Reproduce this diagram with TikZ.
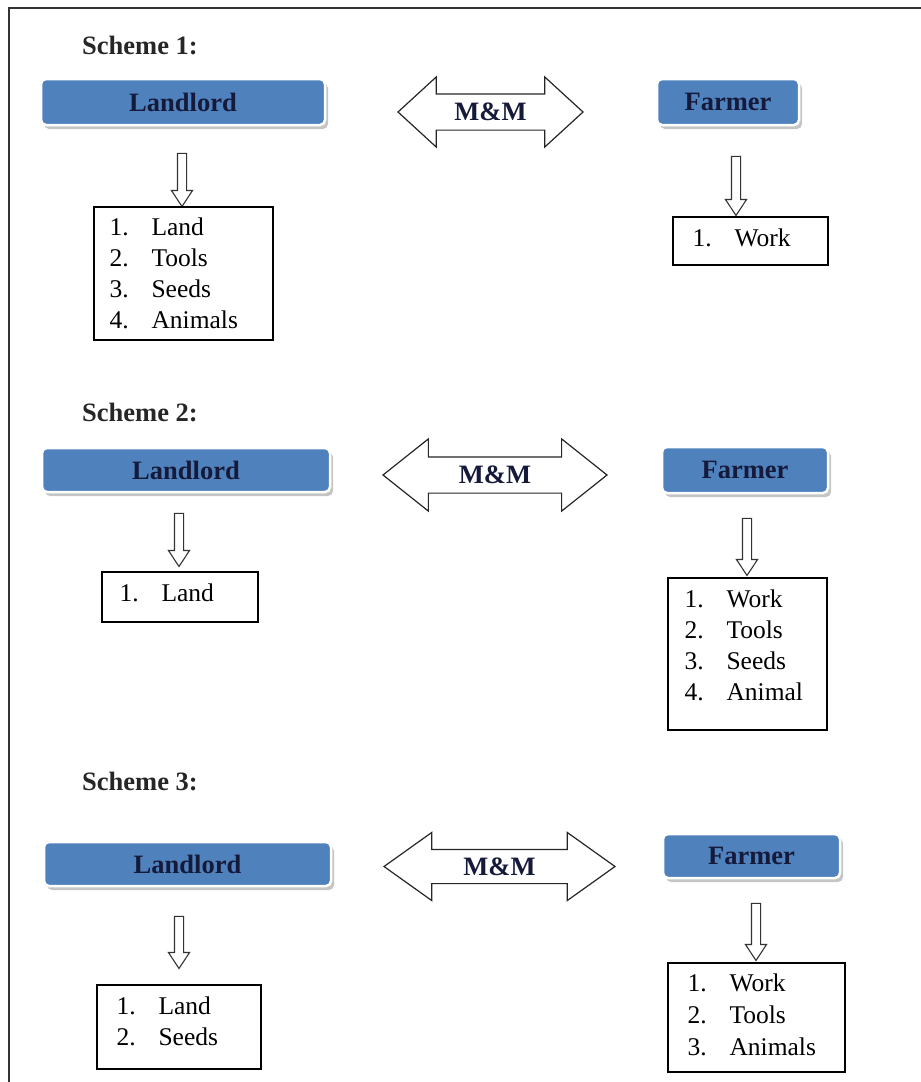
\documentclass[tikz,border=0pt]{standalone}
\usepackage{fontspec}
\setmainfont{Liberation Serif}
\usepackage{tikz}
\usetikzlibrary{shapes.arrows, shadows, positioning, calc}
\definecolor{partyblue}{HTML}{4F81BD}
\definecolor{partytext}{HTML}{15193A}
\newcommand{\numitem}[2]{\makebox[42pt][l]{#1.}#2}
\newcommand{\itemstack}[1]{\begin{tabular}[t]{@{}l@{}}#1\end{tabular}}

\begin{document}
\begin{tikzpicture}[x=1pt, y=-1pt,
  party/.style={rectangle, rounded corners=5pt, fill=partyblue, draw=white, line width=2.5pt,
    drop shadow={shadow xshift=3pt, shadow yshift=-4pt, fill=black!45, opacity=0.5},
    font=\fontsize{26.5}{30}\selectfont\bfseries, text=partytext, inner sep=0pt},
  schemelabel/.style={anchor=base west, inner sep=0pt, font=\fontsize{26.5}{30}\selectfont\bfseries, text=black!85},
  listbox/.style={rectangle, draw=black, line width=1.3pt, inner sep=0pt},
  listtext/.style={anchor=base west, inner sep=0pt, font=\fontsize{25.5}{31}\selectfont},
  handover/.style={single arrow, draw=black!80, fill=white, line width=1.1pt, shape border rotate=270,
    inner sep=4pt, single arrow head extend=6pt, single arrow tip angle=67},
  trade/.style={double arrow, draw=black!85, fill=white, line width=1.2pt, inner xsep=0pt,
    text height=17pt, text depth=0pt, inner ysep=9pt, double arrow head extend=17pt,
    font=\fontsize{26.5}{30}\selectfont\bfseries, text=partytext}
]
  \useasboundingbox (0,0) rectangle (921,1082);

  % Frame
  \draw[line width=2pt, black!80] (9,1082) -- (9,8) -- (921,8);

  % Scheme 1
  \node[schemelabel] (sch1) at (82,54) {Scheme 1:};
  \node[party, minimum width=284pt, minimum height=46pt] (land1) at (183,102) {Landlord};
  \node[party, minimum width=142pt, minimum height=46pt] (farm1) at (728,102) {Farmer};
  \node[trade, minimum height=185pt, double arrow tip angle=85] (mm1) at (490.5,112) {M\&M};
  \node[handover, minimum height=53pt] (dn1L) at (182,176.5) {};
  \node[handover, minimum height=59pt] (dn1F) at (736,182.5) {};
  \node[listbox, minimum width=179pt, minimum height=133pt] (list1L) at (183.5,273.5) {};
  \node[listtext] (txt1L) at ($(list1L.north west)+(16,29)$)
    {\itemstack{\numitem{1}{Land}\\ \numitem{2}{Tools}\\ \numitem{3}{Seeds}\\ \numitem{4}{Animals}}};
  \node[listbox, minimum width=155pt, minimum height=48pt] (list1F) at (750.5,241) {};
  \node[listtext] (txt1F) at ($(list1F.north west)+(20,30)$) {\numitem{1}{Work}};

  % Scheme 2
  \node[schemelabel] (sch2) at (82,421) {Scheme 2:};
  \node[party, minimum width=288pt, minimum height=44pt] (land2) at (186,470) {Landlord};
  \node[party, minimum width=166pt, minimum height=46pt] (farm2) at (745,470) {Farmer};
  \node[trade, minimum height=224pt, double arrow head extend=18pt, double arrow tip angle=77] (mm2) at (495,475) {M\&M};
  \node[handover, minimum height=53pt] (dn2L) at (179,536.5) {};
  \node[handover, minimum height=57pt] (dn2F) at (747,543.5) {};
  \node[listbox, minimum width=156pt, minimum height=50pt] (list2L) at (180,597) {};
  \node[listtext] (txt2L) at ($(list2L.north west)+(18,30)$) {\numitem{1}{Land}};
  \node[listbox, minimum width=159pt, minimum height=152pt] (list2F) at (747.5,654) {};
  \node[listtext] (txt2F) at ($(list2F.north west)+(17,30)$)
    {\itemstack{\numitem{1}{Work}\\ \numitem{2}{Tools}\\ \numitem{3}{Seeds}\\ \numitem{4}{Animal}}};

  % Scheme 3
  \node[schemelabel] (sch3) at (82,790) {Scheme 3:};
  \node[party, minimum width=287pt, minimum height=44pt] (land3) at (187.5,864) {Landlord};
  \node[party, minimum width=177pt, minimum height=44pt] (farm3) at (751.5,856) {Farmer};
  \node[trade, minimum height=231pt, inner ysep=8pt, double arrow tip angle=71] (mm3) at (499.5,866.5) {M\&M};
  \node[handover, minimum height=52pt] (dn3L) at (179,939) {};
  \node[handover, minimum height=57pt] (dn3F) at (756,928.5) {};
  \node[listbox, minimum width=164pt, minimum height=84pt] (list3L) at (179,1027) {};
  \node[listtext] (txt3L) at ($(list3L.north west)+(20,30)$)
    {\itemstack{\numitem{1}{Land}\\ \numitem{2}{Seeds}}};
  \node[listbox, minimum width=177pt, minimum height=109pt] (list3F) at (756.5,1017.5) {};
  \node[listtext, font=\fontsize{25.5}{32}\selectfont] (txt3F) at ($(list3F.north west)+(20,29)$)
    {\itemstack{\numitem{1}{Work}\\ \numitem{2}{Tools}\\ \numitem{3}{Animals}}};
\end{tikzpicture}
\end{document}
